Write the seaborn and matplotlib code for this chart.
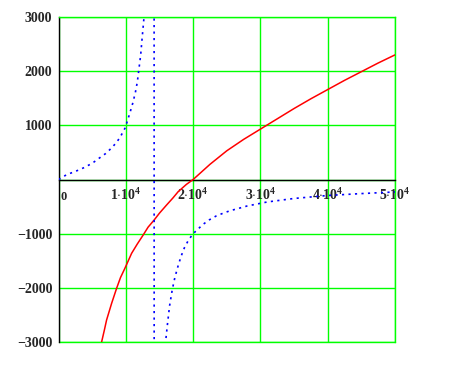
import numpy as np
import pandas as pd
import seaborn as sns
import matplotlib.pyplot as plt

# red curve
red_x = [6390, 6800, 7130, 7880, 8620, 9200, 9850, 10850, 11700, 12570, 13300,
         14200, 15000, 16050, 17000, 17770, 19000, 20000, 22500, 25000, 27500,
         30000, 32500, 35000, 37500, 40000, 42500, 45000, 47500, 50000]
red_y = [-3000, -2780, -2594, -2286, -2009, -1810, -1640, -1363, -1190, -1025, -880,
         -748, -620, -471, -340, -225, -90, 0, 280, 530, 740,
         930, 1120, 1310, 1490, 1660, 1830, 1990, 2150, 2300]

# blue dotted curve (pole near 1.42e4)
blue_x = [0, 1200, 2500, 3700, 5000, 6100, 7000, 7900, 8500, 9100, 9900, 10600,
          11000, 11400, 11700, 11900, 12200, 12400, 12700, 13500, 14150,
          14250, 15000, 15900, 16200, 16500, 16900, 17300, 17750, 18200, 18700,
          19300, 20000, 21450, 22400, 23400, 24400, 25400, 28000, 31000, 35000,
          40000, 45000, 50000]
blue_y = [0, 90, 150, 215, 300, 400, 480, 585, 670, 770, 955, 1230,
          1400, 1600, 1800, 2000, 2300, 2590, 3000, 6000, 40000,
          -40000, -6000, -3000, -2650, -2330, -2030, -1800, -1600, -1420, -1260,
          -1120, -1000, -830, -745, -675, -625, -580, -490, -415, -350,
          -295, -260, -230]

x_ticks = [0, 10000, 20000, 30000, 40000, 50000]
x_labels = ['', r'$1{\cdot}10^{4}$', r'$2{\cdot}10^{4}$', r'$3{\cdot}10^{4}$',
            r'$4{\cdot}10^{4}$', r'$5{\cdot}10^{4}$']
y_ticks = [-3000, -2000, -1000, 0, 1000, 2000, 3000]
y_labels = ['\u22123000', '\u22122000', '\u22121000', '', '1000', '2000', '3000']

sns.set_style('white')
plt.rcParams['font.family'] = ['Liberation Serif', 'DejaVu Serif']
plt.rcParams['font.weight'] = 'bold'
plt.rcParams['mathtext.fontset'] = 'custom'
plt.rcParams['mathtext.rm'] = 'Liberation Serif:bold'
plt.rcParams['mathtext.bf'] = 'Liberation Serif:bold'
plt.rcParams['mathtext.default'] = 'rm'

red = pd.DataFrame({'x': red_x, 'y': red_y})
blue = pd.DataFrame({'x': blue_x, 'y': blue_y})

fig = plt.figure(figsize=(4.58, 3.76), dpi=100)
ax = fig.add_axes([0.128, 0.0904, 0.7343, 0.8644])

sns.lineplot(data=red, x='x', y='y', ax=ax, color='#ff0000', lw=1.1,
             estimator=None, sort=False, zorder=3)
sns.lineplot(data=blue, x='x', y='y', ax=ax, color='#0000ff', lw=1.2,
             estimator=None, sort=False, zorder=3, linestyle=(0, (1.3, 2.6)))

ax.set_xlim(0, 50000)
ax.set_ylim(-3000, 3000)
ax.set_xlabel('')
ax.set_ylabel('')

ax.set_xticks(x_ticks)
ax.set_xticklabels(x_labels, fontsize=9.5)
ax.set_yticks(y_ticks)
ax.set_yticklabels(y_labels, fontsize=9, fontweight='bold')
# the "0" label sits to the right of the origin
ax.annotate('0', xy=(0, 0), xytext=(1, -8), textcoords='offset points',
            ha='left', va='top', fontsize=9, fontweight='bold')

ax.grid(True, color='#00ff00', lw=1.0, zorder=0)
ax.set_axisbelow(True)
ax.axhline(-3000, color='#00ff00', lw=1.0, clip_on=False, zorder=0.5)

for s in ['top', 'right']:
    ax.spines[s].set_color('#00ff00')
    ax.spines[s].set_linewidth(1.0)
ax.spines['bottom'].set_position(('data', 0))
ax.spines['left'].set_position(('data', 0))
for s in ['bottom', 'left']:
    ax.spines[s].set_color('black')
    ax.spines[s].set_linewidth(1.0)
    ax.spines[s].set_zorder(2.5)

ax.tick_params(axis='x', direction='inout', length=6, width=1, color='black', pad=2.5)
ax.tick_params(axis='y', direction='out', length=4, width=1, color='black', pad=0.5)

fig.savefig('out.png', dpi=100, facecolor='white')
